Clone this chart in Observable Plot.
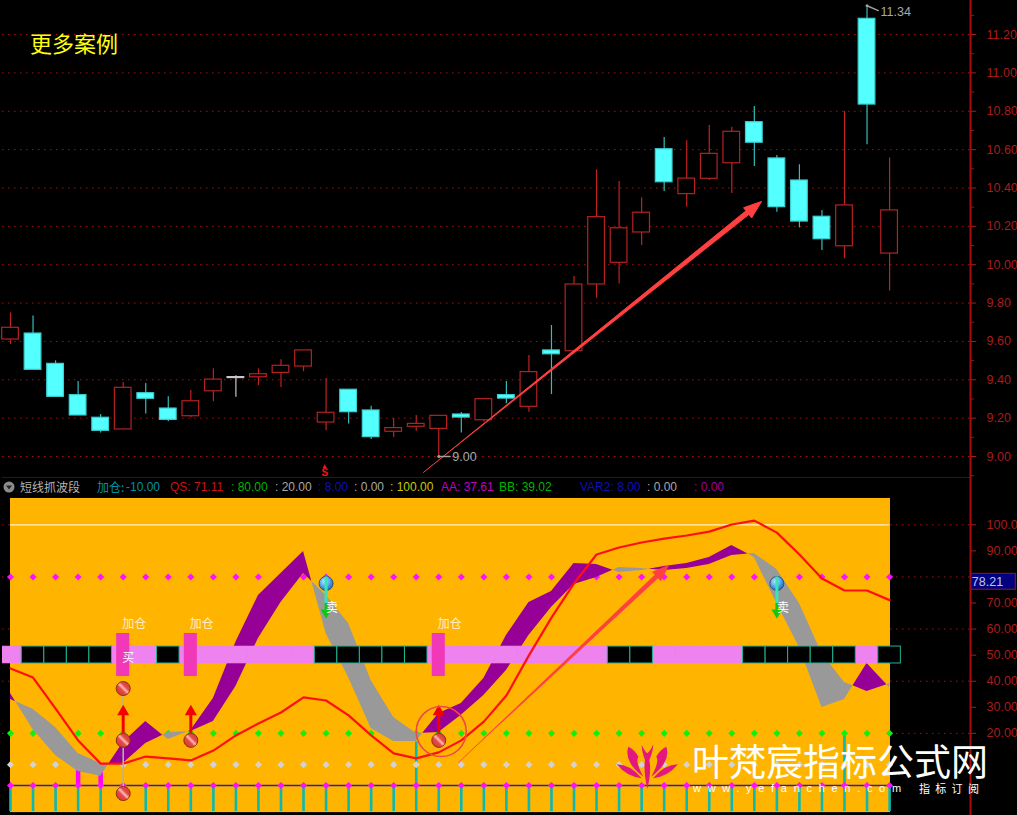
<!DOCTYPE html>
<html><head><meta charset="utf-8">
<script src="https://cdn.jsdelivr.net/npm/d3@7"></script>
<script src="https://cdn.jsdelivr.net/npm/@observablehq/plot@0.6"></script>
<style>
html,body{margin:0;padding:0;background:#000;width:1017px;height:815px;overflow:hidden}
#wrap{position:relative;width:1017px;height:815px;font-family:"Liberation Sans",Arial,sans-serif}
#wrap svg{display:block}
.ov{position:absolute;white-space:pre;line-height:1}
.cjk{font-family:"Noto Sans CJK SC","Noto Sans",sans-serif}
</style></head><body>
<svg width="0" height="0" style="position:absolute"><defs>
<linearGradient id="redBall" x1="0" y1="1" x2="1" y2="0">
<stop offset="0" stop-color="#c8302c"/><stop offset=".4" stop-color="#e64a46"/><stop offset=".52" stop-color="#f8bcb8"/><stop offset=".64" stop-color="#e64a46"/><stop offset="1" stop-color="#d03430"/></linearGradient>
<radialGradient id="blueBall" cx=".4" cy=".35" r=".7"><stop offset="0" stop-color="#c5e8ff"/><stop offset=".55" stop-color="#4ea4ee"/><stop offset="1" stop-color="#1c5cb0"/></radialGradient>
</defs></svg>
<div id="wrap"></div>
<script>
// ---- candles: price pane, one entry per trading bar
const barKind = ["u","d","d","d","d","u","d","d","u","u","f","u","u","u","u","d","d","u","u","u","d","u","d","u","d","u","u","u","u","d","u","u","u","d","d","d","d","u","d","u"];
const barTop = [9.671,9.641,9.483,9.320,9.202,9.358,9.330,9.250,9.288,9.401,9.414,9.429,9.473,9.553,9.228,9.348,9.240,9.148,9.170,9.212,9.219,9.299,9.320,9.440,9.553,9.897,10.248,10.190,10.271,10.602,10.449,10.578,10.693,10.743,10.554,10.439,10.250,10.309,11.282,10.283];
const barBottom = [9.610,9.452,9.311,9.214,9.134,9.141,9.301,9.191,9.210,9.340,9.409,9.413,9.436,9.469,9.177,9.231,9.101,9.129,9.155,9.144,9.203,9.189,9.302,9.259,9.533,9.549,9.897,10.010,10.168,10.430,10.368,10.448,10.529,10.636,10.300,10.225,10.133,10.096,10.835,10.058];
const barHigh = [9.749,9.732,9.499,9.391,9.219,9.386,9.381,9.311,9.344,9.457,9.421,9.457,9.504,9.553,9.407,9.348,9.262,9.198,9.214,9.212,9.229,9.299,9.391,9.527,9.683,9.938,10.495,10.434,10.349,10.663,10.646,10.726,10.717,10.825,10.569,10.521,10.283,10.799,11.34,10.557];
const barLow = [9.584,9.452,9.311,9.214,9.122,9.141,9.221,9.181,9.203,9.285,9.309,9.370,9.360,9.442,9.134,9.170,9.089,9.099,9.132,9.00,9.122,9.179,9.275,9.231,9.323,9.549,9.825,9.900,10.100,10.382,10.300,10.439,10.371,10.512,10.274,10.192,10.074,10.031,10.625,9.862];
const priceTicks = [9.0,9.2,9.4,9.6,9.8,10.0,10.2,10.4,10.6,10.8,11.0,11.2];
const priceMinor = [8.9,9.1,9.3,9.5,9.7,9.9,10.1,10.3,10.5,10.7,10.9,11.1,11.3];
const trendX = [18.32,32.63,32.52,33.32,32.88,32.77];
const trendY = [8.917,10.281,10.297,10.330,10.244,10.260];
// ---- indicator pane
const qs = [44.9,41.4,29.5,17.3,8.4,8.4,11.1,10.4,9.6,13.4,19.2,23.8,28.0,33.8,32.6,26.9,19.2,12.3,10.4,12.7,17.3,24.5,34.5,49.9,64.4,77.5,88.6,91.3,93.2,94.7,95.9,97.4,100.1,101.6,97.0,88.6,79.4,74.8,74.8,71.11];
const aa = [35.3,21.5,11.5,5.4,3.5,16.5,24.5,17.6,21.1,33.4,54.9,72.9,81.3,89.8,58.3,41.4,21.9,16.9,16.9,27.6,31.5,41.0,57.5,70.2,74.4,85.2,84.8,81.7,82.5,84.0,85.2,87.5,92.1,87.5,69.8,52.9,29.9,33.0,46.8,37.61];
const bb = [33.0,29.2,22.2,12.3,8.4,8.4,16.1,20.3,20.7,24.5,38.0,56.4,70.2,81.3,72.9,62.1,40.3,26.1,19.9,20.3,26.9,34.5,44.1,57.5,68.3,77.1,79.8,83.6,83.2,82.5,83.2,84.8,88.2,89.0,82.9,69.8,50.6,39.5,36.1,39.02];
// 1 = black cell, 0 = violet cell in the 50-level strip
const strip = [0,1,1,1,1,0,0,1,0,0,0,0,0,0,1,1,1,1,1,0,0,0,0,0,0,0,0,1,1,0,0,0,0,1,1,1,1,1,0,1];
const stickTop = [0,0,0,0,0,null,0,0,0,0,0,0,0,0,0,0,0,0,16.7,0,0,0,0,0,0,0,0,0,0,0,0,0,0,0,0,0,0,20,0,0];
const magentaBars = [3,4];
const addBars = [5,8,19];
const sellBars = [14,34];
const ballsBuy = [[5,37.2],[5,17.3],[5,-3.1],[8,17.3],[19,17.3]];
const levelTicks = [20,30,40,50,60,70,90,100];
const levelGrid = [20,40,60,80,100];
const arrow2X = [19.88,28.6,28.49,29.19,28.85,28.74];
const arrow2Y = [8.8,80.8,81.9,84.4,78.5,79.6];

const bars = d3.range(40);
const xScale = {axis:null, type:"linear", domain:[-0.355,42.59], range:[2,970]};
const baseFont = '"Liberation Sans",Arial,sans-serif';
const cjkFont = '"Noto Sans CJK SC","Noto Sans",sans-serif';
const wickColor = k => k==="d" ? "#34bcbc" : k==="f" ? "#c8c8c8" : "#c22222";
const bodyFill = k => k==="d" ? "#54ffff" : "#000";
const bodyStroke = k => k==="d" ? "#3cd0d0" : k==="f" ? "#c8c8c8" : "#b52222";

const pricePlot = Plot.plot({
  width:1017,height:478,marginLeft:2,marginRight:47,marginTop:0,marginBottom:0,
  style:{background:"#000",fontFamily:baseFont},
  x:xScale, y:{axis:null,domain:[8.8853,11.3775],range:[478,0]},
  marks:[
    Plot.ruleY(priceTicks,{stroke:"#a01414",strokeWidth:1,strokeDasharray:"1.5,4.5"}),
    Plot.ruleX(bars,{x:d=>d,y1:i=>barLow[i],y2:i=>barHigh[i],stroke:i=>wickColor(barKind[i]),strokeWidth:1.2}),
    Plot.rect(bars,{x1:i=>i-0.37,x2:i=>i+0.37,y1:i=>barBottom[i],y2:i=>barTop[i],fill:i=>bodyFill(barKind[i]),stroke:i=>bodyStroke(barKind[i]),strokeWidth:1.2}),
    Plot.line(bars.slice(0,6),{x:i=>trendX[i],y:i=>trendY[i],fill:"#ff4040",stroke:"#ff4040",strokeWidth:1}),
    Plot.ruleY([8.888],{stroke:"#a01010",strokeWidth:1.2}),
    Plot.ruleX([42.59],{stroke:"#a80c0c",strokeWidth:2}),
    Plot.axisY(priceMinor,{anchor:"right",tickSize:3,tickFormat:()=>"",color:"#a01414",label:null}),
    Plot.axisY(priceTicks,{anchor:"right",tickSize:5,tickPadding:11,tickFormat:d=>d.toFixed(2),color:"#a81c1c",fontSize:12.5,label:null}),
    // extreme labels
    Plot.line([0,1],{x:i=>[38,38.5][i],y:i=>[11.35,11.325][i],stroke:"#a0a0a0"}),
    Plot.dot([0],{x:()=>38,y:()=>11.35,r:1.5,fill:"#a0a0a0"}),
    Plot.text(["11.34"],{x:()=>38.6,y:()=>11.32,text:d=>d,fill:"#a8a8a8",fontSize:12.5,textAnchor:"start"}),
    Plot.line([0,1],{x:i=>[19,19.5][i],y:i=>[9,9][i],stroke:"#a0a0a0"}),
    Plot.dot([0],{x:()=>19,y:()=>9,r:1.5,fill:"#a0a0a0"}),
    Plot.text(["9.00"],{x:()=>19.6,y:()=>8.995,text:d=>d,fill:"#a8a8a8",fontSize:12.5,textAnchor:"start"}),
    Plot.text(["S"],{x:()=>13.94,y:()=>8.915,text:d=>d,fill:"#ff1010",fontSize:10,fontWeight:"bold"}),
    Plot.dot([0],{x:()=>13.94,y:()=>8.947,symbol:"triangle",r:1.6,fill:"#ff1010"})
  ]
});

// ribbon between AA and BB: split where the two lines cross
const ribbon = [];
let seg = 0, sign = aa[0] >= bb[0] ? 1 : -1;
ribbon.push({x:0,a:aa[0],b:bb[0],seg,sign});
for (let i=1;i<40;i++){
  const s = aa[i] >= bb[i] ? 1 : -1;
  if (s !== sign){
    const d0 = aa[i-1]-bb[i-1], d1 = aa[i]-bb[i], t = d0/(d0-d1), c = aa[i-1]+t*(aa[i]-aa[i-1]), xc = i-1+t;
    ribbon.push({x:xc,a:c,b:c,seg,sign});
    seg++; sign = s;
    ribbon.push({x:xc,a:c,b:c,seg,sign});
  }
  ribbon.push({x:i,a:aa[i],b:bb[i],seg,sign});
}

const levelPlot = Plot.plot({
  width:1017,height:337,marginLeft:2,marginRight:47,marginTop:0,marginBottom:0,
  style:{background:"#000",fontFamily:baseFont},
  x:xScale, y:{axis:null,domain:[-11.51,117.76],range:[337,0]},
  marks:[
    Plot.ruleX([42.59],{stroke:"#a80c0c",strokeWidth:2}),
    Plot.ruleY(levelGrid,{stroke:"#a01414",strokeDasharray:"1.5,4.5"}),
    Plot.axisY(levelTicks,{anchor:"right",tickSize:5,tickPadding:11,tickFormat:d=>d.toFixed(2),color:"#a81c1c",fontSize:12.5,label:null}),
    // gold panel
    Plot.rect([0],{x1:()=>0,x2:()=>39.04,y1:()=>-10.4,y2:()=>110.1,fill:"#ffb400"}),
    Plot.ruleY([100],{x1:()=>0,x2:()=>39,stroke:"#fff2cc",strokeWidth:1.2}),
    // sticks and dotted levels
    Plot.ruleX(bars.filter(i=>stickTop[i]!==null),{x:d=>d,y1:()=>-10,y2:i=>stickTop[i],stroke:"#0cb8b0",strokeWidth:2.6}),
    Plot.ruleY([0],{x1:()=>0,x2:()=>39,stroke:"#2a20b0",strokeWidth:1.4}),
    Plot.ruleX(magentaBars,{x:d=>d,y1:()=>0,y2:()=>5.8,stroke:"#ff00ff",strokeWidth:4.5}),
    Plot.dot(bars,{x:d=>d,y:()=>80,symbol:"diamond2",r:3.2,fill:"#ff10ff"}),
    Plot.dot(bars,{x:d=>d,y:()=>20,symbol:"diamond2",r:3.2,fill:"#10f010"}),
    Plot.dot(bars,{x:d=>d,y:()=>8,symbol:"diamond2",r:3.2,fill:"#d2d2d2"}),
    Plot.dot(bars,{x:d=>d,y:()=>0,symbol:"diamond2",r:3.2,fill:"#ff10ff"}),
    // AA / BB ribbon
    Plot.area(ribbon.filter(d=>d.sign>0),{x1:"x",y1:"a",y2:"b",z:"seg",fill:"#960096"}),
    Plot.area(ribbon.filter(d=>d.sign<0),{x1:"x",y1:"a",y2:"b",z:"seg",fill:"#999999"}),
    // 50-level strip: violet cells first, black outlined cells over them
    Plot.rect(bars.filter(i=>!strip[i]),{x1:i=>i-0.5,x2:i=>i+0.5,y1:()=>46.8,y2:()=>53.3,fill:"#ee82ee",stroke:"#ee82ee",strokeWidth:0.6,clip:"frame"}),
    Plot.rect(bars.filter(i=>strip[i]),{x1:i=>i-0.5,x2:i=>i+0.5,y1:()=>46.8,y2:()=>53.3,fill:"#000",stroke:"#22b496",strokeWidth:1,clip:"frame"}),
    // add-position bars
    Plot.rect(addBars,{x1:i=>i-0.29,x2:i=>i+0.29,y1:()=>41.8,y2:()=>58.3,fill:"#f038b8"}),
    Plot.text(addBars,{x:d=>d,y:()=>61.8,dx:11,text:()=>"加仓",fill:"#ffeccb",fontSize:12,fontFamily:cjkFont}),
    Plot.text([5],{x:d=>d,y:()=>49,dx:5,text:()=>"买",fill:"#fff",fontSize:12,fontFamily:cjkFont}),
    // QS line
    Plot.line(bars,{x:d=>d,y:i=>qs[i],stroke:"#ff1010",strokeWidth:2.2}),
    // buy balls and arrows
    Plot.ruleX([5],{x:d=>d,y1:()=>-3.1,y2:()=>37.2,stroke:"#a8b8a8",strokeWidth:1.6}),
    Plot.ruleX(addBars,{x:d=>d,y1:()=>20,y2:()=>27,stroke:"#f40000",strokeWidth:3}),
    Plot.dot(addBars,{x:d=>d,y:()=>28.3,symbol:"triangle",r:4.5,fill:"#f40000"}),
    Plot.dot(ballsBuy,{x:d=>d[0],y:d=>d[1],r:7,fill:"url(#redBall)",stroke:"#903010",strokeWidth:1}),
    // sell balls and arrows
    Plot.dot(sellBars,{x:d=>d,y:()=>77.5,r:7,fill:"url(#blueBall)",stroke:"#40506a",strokeWidth:1}),
    Plot.ruleX(sellBars,{x:d=>d,y1:()=>69.8,y2:()=>80,stroke:"#34e8b4",strokeWidth:3}),
    Plot.ruleX(sellBars,{x:d=>d,y1:()=>66.5,y2:()=>69.8,stroke:"#10c810",strokeWidth:3}),
    Plot.dot(sellBars,{x:d=>d,y:()=>66.3,symbol:"triangle",rotate:180,r:4,fill:"#10c810"}),
    Plot.text(sellBars,{x:d=>d,y:()=>67.9,dx:6,text:()=>"卖",fill:"#fff",fontSize:12,fontFamily:cjkFont}),
    // annotation arrow and circle
    Plot.line(bars.slice(0,6),{x:i=>arrow2X[i],y:i=>arrow2Y[i],fill:"#ff4040",stroke:"#ff4040",strokeWidth:0.8}),
    Plot.dot([0],{x:()=>19.11,y:()=>20.7,r:25,fill:"none",stroke:"#f04848",strokeWidth:1.6}),
    // last value tag
    Plot.rect([78.21],{x1:()=>42.63,x2:()=>44.6,y1:()=>75.1,y2:()=>81.2,fill:"#000080",stroke:"#a01414",strokeWidth:1}),
    Plot.text([78.21],{x:()=>42.65,y:d=>d,text:d=>d.toFixed(2),textAnchor:"start",fill:"#b8c8f0",fontSize:12.5})
  ]
});

const wrap = document.getElementById("wrap");
wrap.append(pricePlot, levelPlot);

function ov(text, x, y, size, color, cls, extra){
  const s = document.createElement("div");
  s.className = "ov " + (cls||"");
  s.textContent = text;
  s.style.left = x+"px"; s.style.top = (y-size/2)+"px";
  s.style.fontSize = size+"px"; s.style.color = color;
  if (extra) Object.assign(s.style, extra);
  wrap.append(s);
}
// headline note
ov("更多案例",30,42,22,"#ffff10","cjk");
// indicator legend row
const legendTexts = ["短线抓波段","加仓:","-10.00","QS: 71.11",": 80.00",": 20.00",": 8.00",": 0.00",": 100.00","AA: 37.61","BB: 39.02","VAR2: 8.00",": 0.00",": 0.00"];
const legendX = [20,97,126,170,231,275,318,354,390,441,499,580,647,694];
const legendColor = ["#b4b4b4","#0090a0","#0090a0","#c41414","#00b400","#a8a8a8","#1010b0","#a8a8a8","#c8c800","#c000c0","#00b400","#1010b0","#a8a8a8","#a000a0"];
legendTexts.forEach((t,i)=>ov(t,legendX[i],487,12,legendColor[i],i<2?"cjk":""));
// watermark
ov("叶梵宸指标公式网",692,760,37,"#fff","cjk");
ov("www.yefanchen.com",693,788,11,"#fff","",{letterSpacing:"6.7px"});
ov("指标订阅",919,788,11,"#fff","cjk",{letterSpacing:"5.3px"});
// legend icon and logo, decoration only
const deco = document.createElementNS("http://www.w3.org/2000/svg","svg");
deco.setAttribute("width","1017"); deco.setAttribute("height","815");
deco.setAttribute("style","position:absolute;left:0;top:0;pointer-events:none");
deco.innerHTML = `
<circle cx="9" cy="487" r="5.5" fill="#8c8c8c"/><path d="M6 485.5h6l-3 4z" fill="#222"/>
<g transform="translate(610,735) scale(.3333)" fill="#e4177f">
<path d="M20 88Q60 88 95 130Q50 125 20 88Z"/><path d="M55 35Q40 80 100 125Q75 80 85 65Q75 45 55 35Z"/>
<path d="M204 88Q164 88 129 130Q174 125 204 88Z"/><path d="M169 35Q184 80 124 125Q149 80 139 65Q149 45 169 35Z"/>
<path d="M112 162Q100 110 105 75Q95 50 95 30Q105 50 112 55Q120 50 130 28Q128 55 118 75Q125 110 112 162Z"/>
</g>`;
wrap.append(deco);
</script>
</body></html>
